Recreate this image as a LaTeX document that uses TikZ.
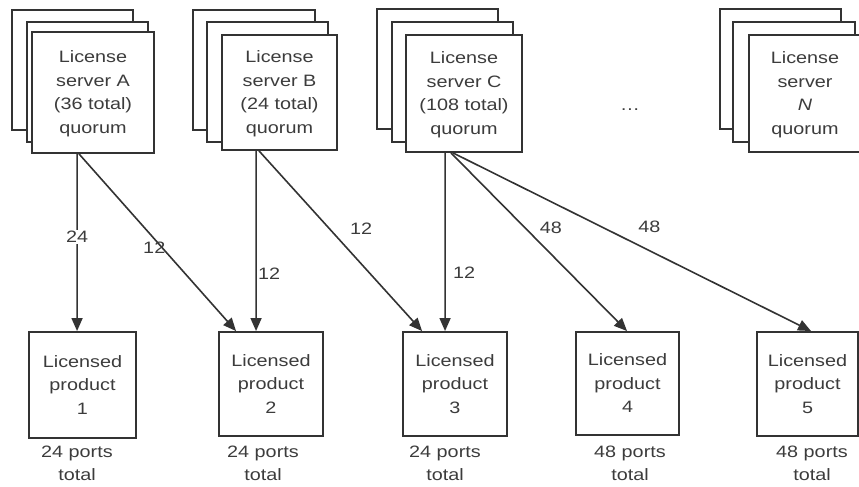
\documentclass[tikz,border=0pt]{standalone}
\usepackage{fontspec}
\setmainfont{Liberation Sans}[FakeStretch=1.2]
\usetikzlibrary{arrows.meta,fit}
\definecolor{ink}{HTML}{333333}
\definecolor{txt}{HTML}{3C3C3C}

\begin{document}
\begin{tikzpicture}[x=1bp,y=-1bp,
  box/.style={draw=ink, line width=1.9bp, fill=white, inner sep=0pt},
  boxtext/.style={text=txt, align=center, inner sep=0pt,
    font=\fontsize{16.5bp}{23.5bp}\selectfont},
  link/.style={draw=ink, line width=1.6bp, -{Triangle[length=13bp,width=11bp]}},
  lbl/.style={text=txt, inner sep=1bp, font=\fontsize{16.5bp}{20bp}\selectfont},
  foot/.style={text=txt, align=center, inner sep=0pt,
    font=\fontsize{16.5bp}{23bp}\selectfont}
]
\useasboundingbox (0,0) rectangle (859,487);

% license server stacks: back, middle, front
\node[box, fit={(12,10) (133,130)}]  (Aback) {};
\node[box, fit={(27,22) (148,142)}]  (Amid)  {};
\node[box, fit={(32,32) (154,153)}]  (A) {};
\node[boxtext] (At) at ([yshift=-1bp]A.center) {License\\server A\\(36 total)\\quorum};

\node[box, fit={(193,10) (315,130)}] (Bback) {};
\node[box, fit={(207,22) (328,142)}] (Bmid)  {};
\node[box, fit={(222,35) (337,150)}] (B) {};
\node[boxtext] (Bt) at ([yshift=-1bp]B.center) {License\\server B\\(24 total)\\quorum};

\node[box, fit={(377,9) (498,129)}]  (Cback) {};
\node[box, fit={(392,22) (513,142)}] (Cmid)  {};
\node[box, fit={(406,35) (522,152)}] (C) {};
\node[boxtext] (Ct) at ([yshift=-1bp]C.center) {License\\server C\\(108 total)\\quorum};

\node[lbl] (dots) at (630,110) {…};

\node[box, fit={(720,9) (841,129)}]  (Nback) {};
\node[box, fit={(733,22) (855,142)}] (Nmid)  {};
\node[box, fit={(749,35) (861,152)}] (N) {};
\node[boxtext] (Nt) at ([yshift=-1bp]N.center) {License\\server\\\textit{N}\\quorum};

% licensed products
\node[box, fit={(29,332) (136,438)}]  (P1) {};
\node[box, fit={(219,332) (323,436)}] (P2) {};
\node[box, fit={(403,332) (507,436)}] (P3) {};
\node[box, fit={(576,332) (679,435)}] (P4) {};
\node[box, fit={(757,332) (858,436)}] (P5) {};
\node[boxtext] (P1t) at (P1.center) {Licensed\\product\\1};
\node[boxtext] (P2t) at (P2.center) {Licensed\\product\\2};
\node[boxtext] (P3t) at (P3.center) {Licensed\\product\\3};
\node[boxtext] (P4t) at (P4.center) {Licensed\\product\\4};
\node[boxtext] (P5t) at (P5.center) {Licensed\\product\\5};

\node[foot] (F1) at (77,463)  {24 ports\\total};
\node[foot] (F2) at (263,463) {24 ports\\total};
\node[foot] (F3) at (445,463) {24 ports\\total};
\node[foot] (F4) at (630,463) {48 ports\\total};
\node[foot] (F5) at (812,463) {48 ports\\total};

% license allocations
\draw[link] ([xshift=46bp]A.south west) -- node[lbl, fill=white, pos=0.47] {24} ([xshift=49bp]P1.north west);
\draw[link] ([xshift=48bp]A.south west) -- node[lbl, pos=0.53, xshift=-8bp] {12} ([xshift=18bp]P2.north west);
\draw[link] ([xshift=35bp]B.south west) -- node[lbl, pos=0.68, xshift=13bp] {12} ([xshift=38bp]P2.north west);
\draw[link] ([xshift=38bp]B.south west) -- node[lbl, pos=0.43, xshift=32bp] {12} ([xshift=20bp]P3.north west);
\draw[link] ([xshift=40bp]C.south west) -- node[lbl, pos=0.67, xshift=19bp] {12} ([xshift=43bp]P3.north west);
\draw[link] ([xshift=46bp]C.south west) -- node[lbl, pos=0.42, xshift=26bp] {48} ([xshift=52bp]P4.north west);
\draw[link] ([xshift=48bp]C.south west) -- node[lbl, pos=0.417, xshift=47bp] {48} ([xshift=55bp]P5.north west);
\end{tikzpicture}
\end{document}
